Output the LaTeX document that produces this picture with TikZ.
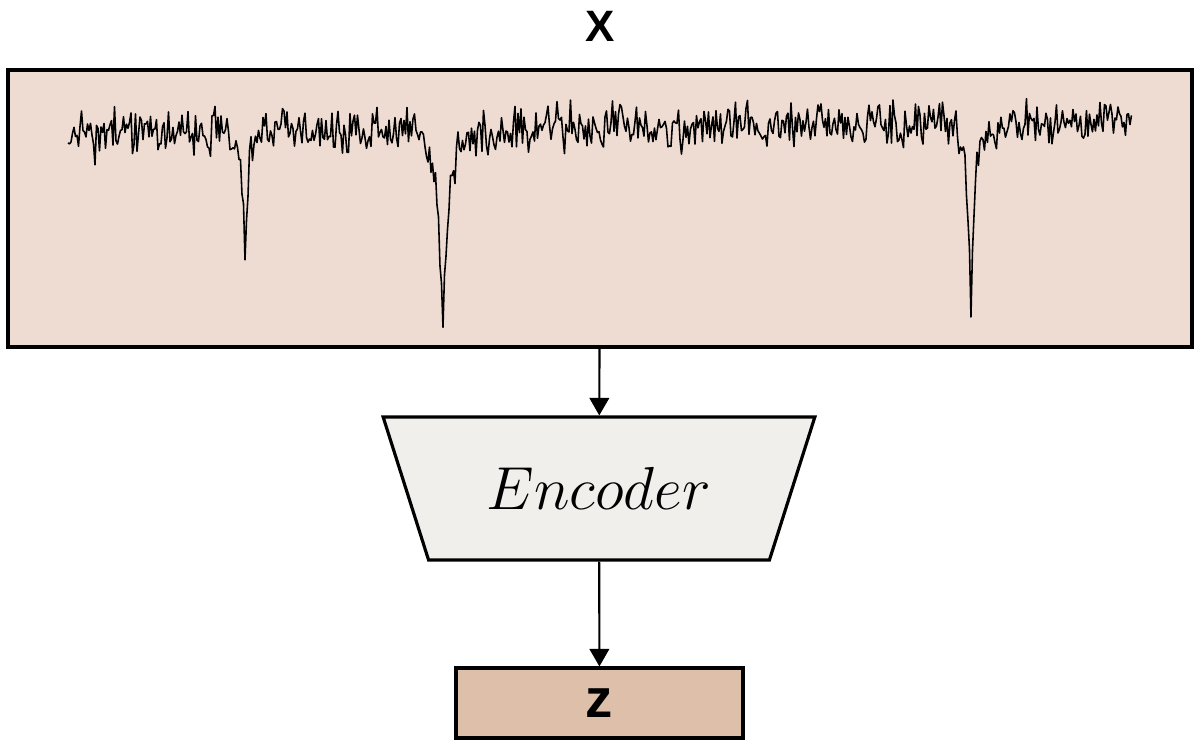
\documentclass[tikz,border=0pt]{standalone}
\usepackage{fontspec}
\setsansfont{Liberation Sans}
\usepackage{xcolor}
\usepackage{tikz}
\usetikzlibrary{positioning,arrows.meta,shapes.geometric}

\definecolor{inputfill}{HTML}{EEDCD3}
\definecolor{encfill}{HTML}{F0EFEC}
\definecolor{latentfill}{HTML}{DDBFAA}

\begin{document}
\begin{tikzpicture}[
    box/.style={draw=black, line width=0.9pt},
    arrow/.style={line width=0.6pt, -{Triangle[length=5pt,width=5.6pt]}},
    signal/.style={black, line width=0.45pt, line join=round}
]
    \useasboundingbox (0,0) rectangle (12,7.49);

    % Input window
    \node[box, fill=inputfill, minimum width=11.84cm, minimum height=2.77cm] (x) at (6.00,5.405) {};
    \node[font=\sffamily\bfseries\fontsize{12.5}{14}\selectfont] (xlab) at (6.00,7.23) {X};

    % Noisy light curve with three dips
    \pgfmathsetseed{17}
    \draw[signal] plot[domain=0.68:11.315, samples=710]
        (\x, {6.14 + 0.012*\x + 0.15*rand + 0.1*rand + 0.12*rand^3
              - 1.35*exp(-min(abs(\x-2.45),1)/0.035)
              - 0.25*exp(-min(abs(\x-4.43),1)/0.12)
              - 1.70*exp(-min(abs(\x-4.43),1)/0.06)
              - 0.20*exp(-min(abs(\x-9.71),1)/0.08)
              - 1.65*exp(-min(abs(\x-9.71),1)/0.04)});

    % Encoder
    \node[box, fill=encfill, trapezium, shape border rotate=180, trapezium stretches=true,
          trapezium angle=63.3, minimum width=4.32cm, minimum height=1.43cm] (enc) at (5.99,2.605)
        {\fontsize{17}{20}\selectfont $Encoder$};

    % Latent code
    \node[box, fill=latentfill, minimum width=2.87cm, minimum height=0.70cm] (z) at (5.995,0.46)
        {\raisebox{-0.14cm}{\sffamily\bfseries\fontsize{15.5}{16}\selectfont z}};

    \draw[arrow] (x) -- (enc);
    \draw[arrow] (enc) -- (z);
\end{tikzpicture}
\end{document}
